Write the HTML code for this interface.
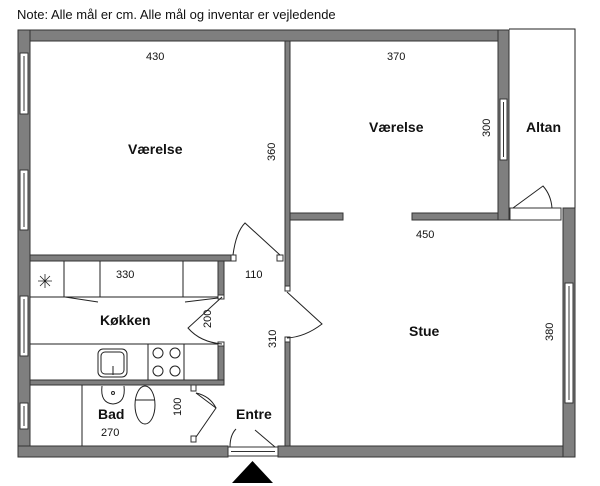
<!DOCTYPE html>
<html><head><style>
body{margin:0;background:#fff}
svg{display:block}
text{font-family:"Liberation Sans",sans-serif;fill:#111}
.d{font-size:11px}
.l{font-size:14px;font-weight:bold}
</style></head><body>
<svg width="600" height="486" viewBox="0 0 600 486" xmlns="http://www.w3.org/2000/svg">
<text x="17" y="19" style="font-size:13px">Note: Alle mål er cm. Alle mål og inventar er vejledende</text>
<g fill="#7f7f7f" stroke="#333" stroke-width="1">
<!-- outer walls -->
<rect x="18" y="30" width="491" height="11"/>
<rect x="18" y="30" width="12" height="427"/>
<rect x="18" y="446" width="210" height="11"/>
<rect x="278" y="446" width="297" height="11"/>
<rect x="563" y="208" width="12" height="249"/>
<rect x="498" y="30" width="11" height="190"/>
<!-- partitions -->
<rect x="285" y="41" width="5" height="248"/>
<rect x="285" y="338" width="5" height="108"/>
<rect x="290" y="213" width="53" height="7"/>
<rect x="412" y="213" width="86" height="7"/>
<rect x="30" y="255" width="201" height="6"/>
<rect x="218" y="261" width="6" height="36"/>
<rect x="218" y="344" width="6" height="41"/>
<rect x="30" y="380" width="194" height="5"/>
</g>
<!-- windows -->
<g fill="#fff" stroke="#333" stroke-width="1">
<rect x="20" y="53" width="8" height="61"/><line x1="24" y1="56" x2="24" y2="111"/>
<rect x="20" y="170" width="8" height="60"/><line x1="24" y1="173" x2="24" y2="227"/>
<rect x="20" y="296" width="8" height="60"/><line x1="24" y1="299" x2="24" y2="353"/>
<rect x="20" y="403" width="8" height="26"/><line x1="24" y1="406" x2="24" y2="426"/>
<rect x="500" y="99" width="7" height="61"/><line x1="503.5" y1="102" x2="503.5" y2="157"/>
<rect x="565" y="283" width="8" height="120"/><line x1="569" y1="286" x2="569" y2="400"/>
<rect x="228" y="447" width="50" height="9"/><line x1="231" y1="451.5" x2="275" y2="451.5"/>
<!-- jambs -->
<rect x="231" y="255" width="5" height="6"/><rect x="277" y="255" width="6" height="6"/>
<rect x="285" y="286" width="5" height="5"/><rect x="285" y="337" width="5" height="5"/>
<rect x="218" y="295" width="6" height="4"/><rect x="218" y="342" width="6" height="4"/>
<rect x="191" y="385" width="5" height="6"/><rect x="191" y="436" width="5" height="6"/>
<rect x="510" y="208" width="51" height="12"/>
</g>
<g fill="none" stroke="#222" stroke-width="1">
<!-- altan outline -->
<polyline points="509,29 575,29 575,208"/>
<!-- doors -->
<path d="M233,255 Q236,232 245,223 L280,255"/>
<path d="M287,292 L322,324 Q305,337 287,338"/>
<path d="M222,297 L188,328 Q200,342 222,344"/>
<path d="M196,393 L216,408 L196,437"/>
<path d="M196,393 Q210,396 216,408"/>
<path d="M230,447 Q230,435 236,429"/>
<path d="M255,430 L275,447"/>
<path d="M513,208 L543,186 Q551,195 552,208"/>
<!-- kitchen upper counter -->
<line x1="64" y1="261" x2="64" y2="297"/><line x1="100" y1="261" x2="100" y2="297"/><line x1="183" y1="261" x2="183" y2="297"/>
<line x1="30" y1="297" x2="218" y2="297"/>
<line x1="65" y1="297" x2="98" y2="302"/><line x1="185" y1="302" x2="218" y2="298"/>
<path d="M38,281 h14 M45,274 v14 M40,276 l10,10 M50,276 l-10,10" stroke-width="0.8"/>
<!-- lower counter -->
<line x1="30" y1="344" x2="218" y2="344"/>
<line x1="148" y1="344" x2="148" y2="380"/><line x1="184" y1="344" x2="184" y2="380"/>
<rect x="98" y="349" width="29" height="28" rx="5"/>
<rect x="101" y="352" width="23" height="22" rx="4"/>
<line x1="113" y1="366" x2="113" y2="375"/>
<circle cx="158" cy="353" r="5"/><circle cx="175" cy="353" r="5"/>
<circle cx="158" cy="371" r="5"/><circle cx="175" cy="371" r="5"/>
<!-- bad -->
<line x1="82" y1="385" x2="82" y2="446"/>
<path d="M102,386 Q100,403 113,404 Q126,403 124,386"/>
<circle cx="113" cy="393" r="1.5"/>
<ellipse cx="145" cy="405" rx="10" ry="19"/>
<line x1="135" y1="400" x2="155" y2="400"/>
</g>
<polygon points="232,483 273,483 252.5,461" fill="#000"/>
<!-- labels -->
<text class="d" x="146" y="60">430</text>
<text class="d" x="387" y="60">370</text>
<text class="d" x="416" y="238">450</text>
<text class="d" x="116" y="278">330</text>
<text class="d" x="245" y="278">110</text>
<text class="d" x="101" y="436">270</text>
<text class="d" transform="translate(275,161) rotate(-90)">360</text>
<text class="d" transform="translate(490,137) rotate(-90)">300</text>
<text class="d" transform="translate(211,328) rotate(-90)">200</text>
<text class="d" transform="translate(276,348) rotate(-90)">310</text>
<text class="d" transform="translate(181,416) rotate(-90)">100</text>
<text class="d" transform="translate(553,341) rotate(-90)">380</text>
<text class="l" x="128" y="154">Værelse</text>
<text class="l" x="369" y="132">Værelse</text>
<text class="l" x="526" y="132">Altan</text>
<text class="l" x="100" y="325">Køkken</text>
<text class="l" x="409" y="336">Stue</text>
<text class="l" x="98" y="419">Bad</text>
<text class="l" x="236" y="419">Entre</text>
</svg>
</body></html>
